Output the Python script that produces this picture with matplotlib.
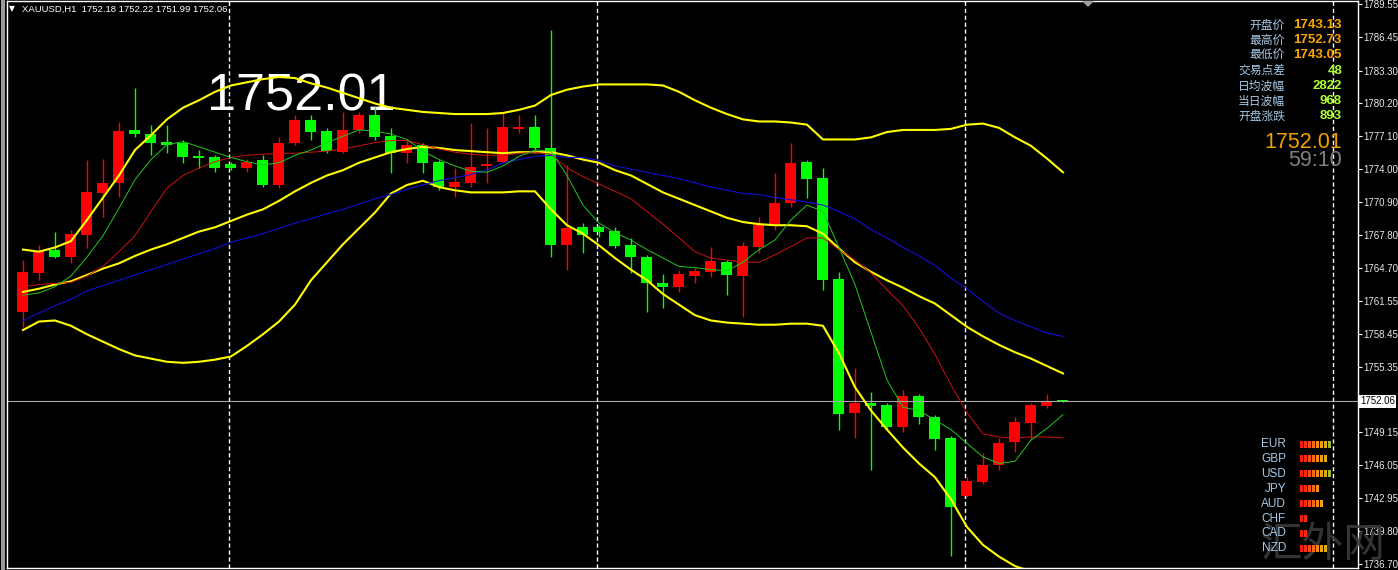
import matplotlib
matplotlib.use("Agg")
import matplotlib.pyplot as plt
from matplotlib.patches import Rectangle, Polygon
import numpy as np

# ---- candles (XAUUSD H1), red = up, green = down ----
opens = [1760.50, 1764.19, 1766.36, 1765.70, 1767.78, 1771.74, 1772.69, 1777.70, 1777.32, 1776.56,
         1776.47, 1775.24, 1775.15, 1774.48, 1774.11, 1774.86, 1772.50, 1776.47, 1778.64, 1777.60,
         1775.62, 1777.70, 1779.11, 1777.13, 1775.52, 1776.28, 1774.67, 1772.31, 1772.69, 1774.30,
         1774.67, 1777.79, 1777.98, 1775.99, 1766.83, 1768.53, 1768.53, 1768.15, 1766.83, 1765.70,
         1763.24, 1762.87, 1763.90, 1764.28, 1765.23, 1763.90, 1766.64, 1768.82, 1770.80, 1774.67,
         1773.16, 1763.62, 1750.96, 1751.91, 1751.72, 1749.64, 1752.57, 1750.59, 1748.60, 1743.13,
         1744.45, 1746.05, 1748.23, 1750.02, 1751.62, 1752.18]
highs = [1765.42, 1766.83, 1768.06, 1768.25, 1774.86, 1774.96, 1778.45, 1781.66, 1778.17, 1778.17,
         1776.75, 1775.81, 1775.33, 1774.67, 1774.96, 1775.33, 1777.03, 1779.11, 1779.11, 1777.88,
         1779.39, 1779.39, 1779.87, 1777.88, 1776.75, 1776.47, 1774.86, 1774.11, 1778.36, 1777.88,
         1779.30, 1779.11, 1779.11, 1787.14, 1774.39, 1768.91, 1768.72, 1768.53, 1767.49, 1765.89,
         1764.09, 1764.47, 1764.66, 1766.64, 1765.42, 1767.12, 1769.47, 1773.63, 1776.47, 1774.86,
         1774.11, 1764.28, 1755.21, 1752.95, 1751.91, 1753.14, 1752.76, 1750.77, 1748.79, 1744.92,
         1747.18, 1748.60, 1750.59, 1751.91, 1752.73, 1752.22]
lows = [1759.09, 1763.53, 1765.60, 1765.13, 1766.55, 1769.47, 1771.37, 1777.03, 1775.33, 1775.52,
        1774.58, 1774.11, 1773.73, 1773.92, 1773.73, 1772.31, 1772.22, 1776.28, 1776.75, 1775.52,
        1775.52, 1777.41, 1776.75, 1773.63, 1774.58, 1773.63, 1772.03, 1771.37, 1772.31, 1772.69,
        1774.58, 1777.41, 1775.81, 1765.70, 1764.47, 1766.08, 1767.59, 1766.55, 1764.19, 1760.50,
        1760.88, 1762.39, 1763.24, 1763.81, 1762.11, 1760.03, 1766.08, 1768.25, 1770.42, 1771.27,
        1762.58, 1749.36, 1748.60, 1745.58, 1749.36, 1749.17, 1749.92, 1747.47, 1737.46, 1743.05,
        1744.26, 1745.58, 1747.28, 1748.41, 1751.43, 1751.99]
closes = [1764.28, 1766.27, 1765.70, 1767.87, 1771.84, 1772.69, 1777.60, 1777.32, 1776.47, 1776.28,
          1775.15, 1775.05, 1774.11, 1774.11, 1774.67, 1772.50, 1776.47, 1778.64, 1777.51, 1775.71,
          1777.70, 1779.11, 1777.03, 1775.52, 1776.28, 1774.58, 1772.31, 1772.78, 1774.20, 1774.48,
          1777.98, 1777.98, 1775.99, 1766.83, 1768.44, 1767.78, 1768.06, 1766.74, 1765.70, 1763.24,
          1762.87, 1764.09, 1764.38, 1765.32, 1763.99, 1766.74, 1768.72, 1770.80, 1774.58, 1773.07,
          1763.53, 1750.87, 1751.91, 1751.62, 1749.64, 1752.57, 1750.59, 1748.51, 1742.08, 1744.54,
          1746.05, 1748.13, 1750.11, 1751.72, 1752.10, 1752.06]

# ---- indicators ----
bb_upper = [1766.4, 1766.2, 1766.6, 1767.2, 1769.2, 1771.3, 1773.4, 1775.8, 1777.2, 1778.7,
            1779.8, 1780.5, 1781.3, 1781.9, 1782.2, 1782.5, 1782.7, 1782.6, 1782.1, 1781.7,
            1781.2, 1780.7, 1780.2, 1779.8, 1779.6, 1779.4, 1779.3, 1779.2, 1779.2, 1779.2,
            1779.3, 1779.6, 1780.0, 1781.0, 1781.5, 1781.8, 1782.0, 1782.0, 1782.0, 1782.0,
            1781.9, 1781.3, 1780.5, 1779.8, 1779.2, 1778.7, 1778.5, 1778.5, 1778.4, 1778.2,
            1776.8, 1776.8, 1776.8, 1777.0, 1777.5, 1777.7, 1777.7, 1777.7, 1777.8, 1778.2,
            1778.3, 1777.9, 1777.0, 1776.2, 1775.0, 1773.7]
bb_middle = [1762.4, 1762.7, 1763.1, 1763.4, 1764.0, 1764.6, 1765.1, 1765.8, 1766.4, 1766.9,
             1767.5, 1768.1, 1768.5, 1769.1, 1769.7, 1770.2, 1771.0, 1771.9, 1772.7, 1773.4,
             1773.9, 1774.6, 1775.1, 1775.6, 1775.9, 1776.1, 1776.0, 1775.8, 1775.7, 1775.6,
             1775.5, 1775.6, 1775.6, 1775.6, 1775.3, 1774.9, 1774.6, 1773.9, 1773.4, 1772.6,
             1771.8, 1771.2, 1770.6, 1770.0, 1769.4, 1769.0, 1768.8, 1768.7, 1768.7, 1768.6,
             1767.9, 1766.5, 1765.2, 1764.3, 1763.5, 1762.8, 1762.0, 1761.3, 1760.2, 1759.1,
             1758.2, 1757.4, 1756.7, 1756.1, 1755.4, 1754.7]
bb_lower = [1758.8, 1759.6, 1759.7, 1759.2, 1758.4, 1757.7, 1757.0, 1756.4, 1756.1, 1755.8,
            1755.7, 1755.8, 1756.0, 1756.3, 1757.3, 1758.4, 1759.6, 1761.2, 1763.5, 1765.2,
            1766.9, 1768.4, 1769.9, 1771.7, 1772.5, 1772.9, 1772.3, 1772.0, 1771.8, 1771.8,
            1771.8, 1771.9, 1771.9, 1770.2, 1768.7, 1767.9, 1766.8, 1765.6, 1764.5, 1763.5,
            1762.2, 1761.2, 1760.2, 1759.7, 1759.5, 1759.4, 1759.3, 1759.3, 1759.4, 1759.4,
            1759.2, 1756.6, 1753.4, 1751.2, 1749.4, 1747.7, 1746.2, 1744.9, 1742.8, 1740.2,
            1738.5, 1737.4, 1736.5, 1736.0, 1735.5, 1735.0]
ma_slow = [1759.7, 1760.4, 1761.1, 1761.7, 1762.5, 1763.0, 1763.5, 1764.0, 1764.5, 1765.0,
           1765.5, 1766.0, 1766.5, 1767.1, 1767.5, 1767.9, 1768.4, 1768.9, 1769.3, 1769.8,
           1770.2, 1770.7, 1771.2, 1771.6, 1772.1, 1772.5, 1772.9, 1773.2, 1773.5, 1773.9,
           1774.6, 1774.9, 1775.2, 1775.3, 1775.1, 1775.1, 1774.8, 1774.3, 1774.0, 1773.7,
           1773.4, 1773.1, 1772.7, 1772.3, 1772.0, 1771.7, 1771.6, 1771.3, 1771.1, 1770.9,
           1770.6, 1770.0, 1769.3, 1768.3, 1767.5, 1766.6, 1765.8, 1764.9, 1763.7, 1762.7,
           1761.5, 1760.4, 1759.7, 1759.1, 1758.5, 1758.2]
ma_mid = [1762.9, 1763.1, 1763.2, 1763.3, 1763.9, 1764.8, 1766.2, 1767.7, 1770.0, 1772.2,
          1773.4, 1774.1, 1774.7, 1775.1, 1775.3, 1775.4, 1775.5, 1775.5, 1775.6, 1775.7,
          1775.9, 1776.2, 1776.5, 1776.7, 1776.7, 1776.3, 1775.9, 1775.6, 1775.4, 1775.3,
          1775.3, 1775.5, 1775.6, 1775.4, 1774.1, 1773.3, 1772.6, 1771.9, 1771.2, 1770.0,
          1768.8, 1767.5, 1766.2, 1765.6, 1765.4, 1765.2, 1765.2, 1765.9, 1766.7, 1767.5,
          1767.5, 1766.4, 1765.4, 1764.2, 1762.6, 1761.1, 1759.0, 1756.5, 1753.6, 1751.0,
          1749.0, 1748.7, 1748.6, 1748.7, 1748.7, 1748.6]
ma_fast = [1762.1, 1762.3, 1762.9, 1763.9, 1765.7, 1767.7, 1770.3, 1773.0, 1774.9, 1776.3,
           1776.6, 1776.1, 1775.6, 1775.1, 1774.7, 1774.4, 1774.6, 1775.3, 1775.8, 1776.5,
           1777.1, 1777.7, 1777.6, 1777.3, 1776.8, 1775.7, 1774.9, 1774.3, 1773.8, 1773.7,
           1774.3, 1775.2, 1775.8, 1775.7, 1773.4, 1770.6, 1768.9, 1768.0, 1767.3, 1766.4,
           1765.6, 1764.8, 1764.7, 1764.5, 1764.4, 1765.2, 1766.4, 1767.3, 1769.2, 1770.6,
           1770.0, 1766.6, 1763.1, 1758.6, 1754.1, 1751.5, 1751.2, 1750.3, 1749.4, 1748.1,
           1746.8, 1746.2, 1746.4, 1748.4, 1749.5, 1750.8]

day_starts = [13, 36, 59, 82]
price_ticks = [1789.55, 1786.45, 1783.30, 1780.20, 1777.10, 1774.00, 1770.90, 1767.80, 1764.70,
               1761.55, 1758.45, 1755.35, 1749.15, 1746.05, 1742.95, 1739.80, 1736.70]
bid = 1752.06
big_price = "1752.01"
header = "XAUUSD,H1  1752.18 1752.22 1751.99 1752.06"

info_labels = ["开盘价", "最高价", "最低价", "交易点差", "日均波幅", "当日波幅", "开盘涨跌"]
info_values = ["1743.13", "1752.73", "1743.05", "48", "2822", "968", "893"]
info_colors = ["#ffa500"] * 3 + ["#adff2f"] * 4
countdown = "59:10"

currencies = ["EUR", "GBP", "USD", "JPY", "AUD", "CHF", "CAD", "NZD"]
strength = [8, 7, 8, 5, 6, 2, 2, 7]
strength_colors = ["#ff1a10", "#ff2a10", "#ff4a10", "#ff6a10", "#ff8c10", "#f0a010", "#d8b010", "#a8b828"]

W, H = 1398, 570
fig = plt.figure(figsize=(W / 100, H / 100), dpi=100, facecolor="black")
fig.patches.append(Rectangle((1 / W, 0), 4 / W, 1, transform=fig.transFigure,
                             facecolor="#9a9a9a", edgecolor="none"))

ax = fig.add_axes([6.5 / W, 2 / H, (1358 - 6.5) / W, 567 / H], facecolor="black")
ax.set_xlim(-1.03, 83.44)
ax.set_ylim(1736.32, 1789.88)

x = np.arange(len(opens))

# big price text behind the chart
ax.text(0.1485, 0.806, big_price, transform=ax.transAxes, color="white",
        fontsize=37.5, family="Liberation Sans", va="baseline", ha="left", zorder=1)

# period separators
for d in day_starts:
    ax.axvline(d - 0.12, color="white", lw=1.0, ls=(0, (3, 2)), zorder=1.5)

# candles
for i in range(len(opens)):
    o, h, l, c = opens[i], highs[i], lows[i], closes[i]
    col = "#ff0000" if c > o else "#00ff00"
    ax.vlines(x[i], l, h, color=col, lw=1.0, zorder=2)
    ax.bar(x[i], max(abs(c - o), 0.1), bottom=min(o, c), width=0.69,
           color=col, edgecolor="none", zorder=2)

# bid line
ax.axhline(bid, color="#a8a8a8", lw=0.8, zorder=2.5)

# indicators
ax.plot(x, bb_upper, color="#ffff00", lw=1.5, zorder=3)
ax.plot(x, bb_middle, color="#ffff00", lw=1.5, zorder=3)
ax.plot(x, bb_lower, color="#ffff00", lw=1.5, zorder=3)
ax.plot(x, ma_slow, color="#1010d8", lw=0.8, zorder=3)
ax.plot(x, ma_mid, color="#d01010", lw=0.7, zorder=3)
ax.plot(x, ma_fast, color="#20c820", lw=0.7, zorder=3)

# axes styling
for s in ax.spines.values():
    s.set_color("white")
    s.set_linewidth(1.0)
ax.set_xticks([])
ax.yaxis.tick_right()
ax.set_yticks(price_ticks)
ax.set_yticklabels([f"{p:.2f}" for p in price_ticks])
ax.tick_params(axis="y", colors="white", labelcolor="#e8e8e8", length=3, width=0.8,
               labelsize=7, pad=1)
for t in ax.get_yticklabels():
    t.set_family("Liberation Sans")

# bid label box on the price scale
ax.text(1.0015, bid, f"{bid:.2f}", transform=ax.get_yaxis_transform(), fontsize=7,
        family="Liberation Sans", color="black", va="center", ha="left",
        bbox=dict(boxstyle="square,pad=0.15", facecolor="white", edgecolor="none"),
        clip_on=False, zorder=5)

# header
fig.text(9 / W, 1 - 9 / H, "▼", color="white", fontsize=5.5, va="center", ha="left")
fig.text(22 / W, 1 - 9 / H, header, color="white", fontsize=6.8, family="Liberation Sans",
         va="center", ha="left")

# chart shift marker
fig.patches.append(Polygon([[1082 / W, 1 - 1 / H], [1094 / W, 1 - 1 / H], [1088 / W, 1 - 7 / H]],
                           closed=True, transform=fig.transFigure,
                           facecolor="#a0a0a0", edgecolor="none"))

# info panel
cjk = ["Noto Sans CJK SC", "DejaVu Sans"]
for k, (lab, val, col) in enumerate(zip(info_labels, info_values, info_colors)):
    yy = 1 - (25 + 15.2 * k) / H
    fig.text(1285 / W, yy, lab, color="#a6c8e4", fontsize=8.5, family=cjk,
             ha="right", va="center")
    fig.text(1342 / W, yy, val, color=col, fontsize=9.5, family="Liberation Sans",
             weight="bold", ha="right", va="center")
fig.text(1342 / W, 1 - 142 / H, big_price, color="#f0a000", fontsize=15.5,
         family="Liberation Sans", ha="right", va="center")
fig.text(1342 / W, 1 - 161 / H, countdown, color="#808080", fontsize=15.5,
         family="Liberation Sans", ha="right", va="center")

# currency strength
for k, (cur, n) in enumerate(zip(currencies, strength)):
    yc = 444 + 14.9 * k
    fig.text(1286 / W, 1 - yc / H, cur, color="#a6c8e4", fontsize=8.5,
             family="Liberation Sans", ha="right", va="center", zorder=3)
    for b in range(n):
        fig.patches.append(Rectangle(((1300 + 4 * b) / W, 1 - (yc + 3.5) / H), 2.7 / W, 7 / H,
                                     transform=fig.transFigure,
                                     facecolor=strength_colors[b], edgecolor="none"))

# watermark (faint, sits under the panel labels as in the source)
fig.text(1323 / W, 1 - 545 / H, "汇外网", color="#3a3a3a", fontsize=30, family=cjk,
         ha="center", va="center", alpha=0.9, zorder=0)

fig.savefig("out.png", dpi=100, facecolor="black")
